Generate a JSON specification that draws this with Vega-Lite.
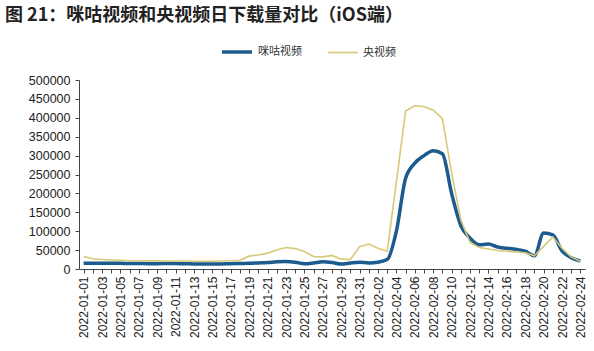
{
  "$schema": "https://vega.github.io/schema/vega-lite/v6.json",
  "width": 506,
  "height": 189,
  "autosize": {"type": "none"},
  "padding": {"left": 79, "top": 80, "right": 9, "bottom": 82},
  "background": "white",
  "title": {
    "text": "图 21：咪咕视频和央视频日下载量对比（iOS端）",
    "anchor": "start",
    "frame": "group",
    "dx": -74,
    "offset": 10,
    "font": "Noto Sans CJK SC",
    "fontSize": 18,
    "fontWeight": "bold",
    "color": "#222222"
  },
  "data": {
    "values": [
      {"date": "2022-01-01", "咪咕视频": 15000, "央视频": 33000},
      {"date": "2022-01-02", "咪咕视频": 15500, "央视频": 27000},
      {"date": "2022-01-03", "咪咕视频": 15500, "央视频": 25000},
      {"date": "2022-01-04", "咪咕视频": 15000, "央视频": 24000},
      {"date": "2022-01-05", "咪咕视频": 15000, "央视频": 23000},
      {"date": "2022-01-06", "咪咕视频": 14500, "央视频": 22000},
      {"date": "2022-01-07", "咪咕视频": 14500, "央视频": 22000},
      {"date": "2022-01-08", "咪咕视频": 14000, "央视频": 21500},
      {"date": "2022-01-09", "咪咕视频": 14000, "央视频": 21500},
      {"date": "2022-01-10", "咪咕视频": 14500, "央视频": 21000},
      {"date": "2022-01-11", "咪咕视频": 14500, "央视频": 21000},
      {"date": "2022-01-12", "咪咕视频": 14000, "央视频": 21000},
      {"date": "2022-01-13", "咪咕视频": 13500, "央视频": 20500},
      {"date": "2022-01-14", "咪咕视频": 13000, "央视频": 20500},
      {"date": "2022-01-15", "咪咕视频": 13000, "央视频": 20500},
      {"date": "2022-01-16", "咪咕视频": 13500, "央视频": 21000},
      {"date": "2022-01-17", "咪咕视频": 14000, "央视频": 22000},
      {"date": "2022-01-18", "咪咕视频": 14500, "央视频": 23000},
      {"date": "2022-01-19", "咪咕视频": 15000, "央视频": 34000},
      {"date": "2022-01-20", "咪咕视频": 16000, "央视频": 37000},
      {"date": "2022-01-21", "咪咕视频": 17000, "央视频": 42000},
      {"date": "2022-01-22", "咪咕视频": 19000, "央视频": 50000},
      {"date": "2022-01-23", "咪咕视频": 20000, "央视频": 57000},
      {"date": "2022-01-24", "咪咕视频": 18000, "央视频": 54000},
      {"date": "2022-01-25", "咪咕视频": 14000, "央视频": 46000},
      {"date": "2022-01-26", "咪咕视频": 16000, "央视频": 33000},
      {"date": "2022-01-27", "咪咕视频": 19000, "央视频": 32000},
      {"date": "2022-01-28", "咪咕视频": 17000, "央视频": 36000},
      {"date": "2022-01-29", "咪咕视频": 13000, "央视频": 26000},
      {"date": "2022-01-30", "咪咕视频": 16000, "央视频": 25000},
      {"date": "2022-01-31", "咪咕视频": 18000, "央视频": 59000},
      {"date": "2022-02-01", "咪咕视频": 16000, "央视频": 66000},
      {"date": "2022-02-02", "咪咕视频": 18000, "央视频": 55000},
      {"date": "2022-02-03", "咪咕视频": 25000, "央视频": 47000},
      {"date": "2022-02-04", "咪咕视频": 100000, "央视频": 230000},
      {"date": "2022-02-05", "咪咕视频": 240000, "央视频": 418000},
      {"date": "2022-02-06", "咪咕视频": 280000, "央视频": 432000},
      {"date": "2022-02-07", "咪咕视频": 300000, "央视频": 430000},
      {"date": "2022-02-08", "咪咕视频": 313000, "央视频": 420000},
      {"date": "2022-02-09", "咪咕视频": 305000, "央视频": 398000},
      {"date": "2022-02-10", "咪咕视频": 200000, "央视频": 255000},
      {"date": "2022-02-11", "咪咕视频": 115000, "央视频": 130000},
      {"date": "2022-02-12", "咪咕视频": 82000, "央视频": 70000},
      {"date": "2022-02-13", "咪咕视频": 64000, "央视频": 57000},
      {"date": "2022-02-14", "咪咕视频": 66000, "央视频": 53000},
      {"date": "2022-02-15", "咪咕视频": 58000, "央视频": 49000},
      {"date": "2022-02-16", "咪咕视频": 55000, "央视频": 47000},
      {"date": "2022-02-17", "咪咕视频": 52000, "央视频": 45000},
      {"date": "2022-02-18", "咪咕视频": 47000, "央视频": 43000},
      {"date": "2022-02-19", "咪咕视频": 35000, "央视频": 35000},
      {"date": "2022-02-20", "咪咕视频": 95000, "央视频": 60000},
      {"date": "2022-02-21", "咪咕视频": 90000, "央视频": 85000},
      {"date": "2022-02-22", "咪咕视频": 48000, "央视频": 55000},
      {"date": "2022-02-23", "咪咕视频": 30000, "央视频": 32000},
      {"date": "2022-02-24", "咪咕视频": 21000, "央视频": 20000}
    ]
  },
  "transform": [{"fold": ["咪咕视频", "央视频"], "as": ["series", "value"]}],
  "encoding": {
    "x": {
      "field": "date",
      "type": "ordinal",
      "sort": null,
      "scale": {"type": "point", "padding": 0.5},
      "axis": {
        "title": null,
        "labelAngle": -90,
        "labelExpr": "((substring(datum.value,5,7)=='01' ? toNumber(substring(datum.value,8,10))-1 : 30+toNumber(substring(datum.value,8,10))) % 2 == 0) ? datum.value : ''",
        "labelFont": "Liberation Sans",
        "labelFontSize": 12,
        "labelColor": "#222222",
        "labelPadding": 3,
        "tickSize": 4,
        "tickColor": "#444444",
        "domainColor": "#444444"
      }
    },
    "y": {
      "field": "value",
      "type": "quantitative",
      "scale": {"domain": [0, 500000], "nice": false},
      "axis": {
        "title": null,
        "values": [0, 50000, 100000, 150000, 200000, 250000, 300000, 350000, 400000, 450000, 500000],
        "format": "d",
        "grid": false,
        "labelFont": "Liberation Sans",
        "labelFontSize": 12.5,
        "labelColor": "#222222",
        "labelPadding": 5,
        "tickSize": 4,
        "tickColor": "#444444",
        "domainColor": "#444444"
      }
    },
    "color": {
      "field": "series",
      "type": "nominal",
      "scale": {"domain": ["咪咕视频", "央视频"], "range": ["#1b5b8e", "#d8c878"]},
      "legend": {
        "orient": "none",
        "legendX": 141,
        "legendY": -45,
        "direction": "horizontal",
        "title": null,
        "symbolType": "stroke",
        "symbolSize": 900,
        "labelFont": "Noto Sans CJK SC",
        "labelFontSize": 11,
        "labelColor": "#333333",
        "columnPadding": 22,
        "labelOffset": 4
      }
    },
    "strokeWidth": {
      "field": "series",
      "type": "nominal",
      "scale": {"domain": ["咪咕视频", "央视频"], "range": [3.5, 1.6]},
      "legend": null
    }
  },
  "layer": [
    {
      "transform": [{"filter": "datum.series == '咪咕视频'"}],
      "mark": {"type": "line", "interpolate": "monotone"}
    },
    {
      "transform": [{"filter": "datum.series == '央视频'"}],
      "mark": {"type": "line", "interpolate": "linear"}
    }
  ],
  "config": {"view": {"stroke": null}}
}
